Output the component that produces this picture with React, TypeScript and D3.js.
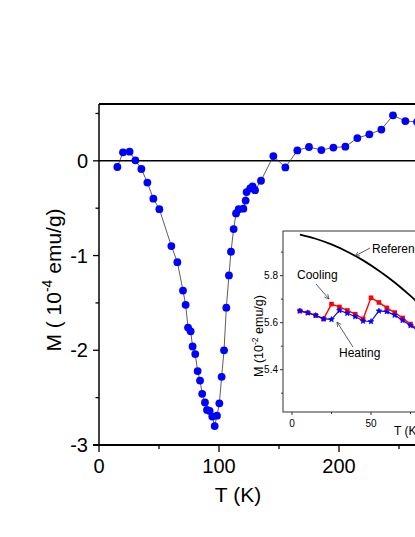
import React from "react";
import * as d3 from "d3";

const mainT = [15.3, 20, 25.5, 30.3, 35.3, 40.3, 45.3, 50.3, 60.3, 65.3, 70, 72.2, 74.2, 76.4, 78, 80.2, 82.2, 84.2, 86, 88.3, 90, 92.2, 94.4, 96.4, 98.3, 100.3, 102.2, 104.2, 106.1, 108.3, 110, 112.2, 114.2, 116.4, 120.3, 122.2, 123, 126, 128, 130, 135, 145.3, 155.3, 165.3, 175, 185.3, 195.3, 205.3, 215.3, 225.3, 235.3, 245, 255.3, 265, 275, 285];
const mainM = [-0.065, 0.09, 0.097, 0.005, -0.086, -0.23, -0.40, -0.51, -0.90, -1.07, -1.37, -1.52, -1.76, -1.80, -1.96, -2.04, -2.22, -2.32, -2.46, -2.55, -2.63, -2.64, -2.70, -2.80, -2.69, -2.56, -2.28, -2.00, -1.55, -1.21, -0.96, -0.72, -0.555, -0.51, -0.505, -0.42, -0.33, -0.29, -0.27, -0.31, -0.21, 0.05, -0.07, 0.11, 0.146, 0.114, 0.14, 0.15, 0.24, 0.28, 0.33, 0.48, 0.42, 0.41, 0.4, 0.42];

const mainYMajor = [-3, -2, -1, 0];
const mainYMinor = [-2.5, -1.5, -0.5, 0.5];
const mainXMajor = [0, 100, 200, 300];
const mainXMinor = [50, 150, 250];

const refT = [5, 15, 25, 35, 45, 55, 65, 75, 85, 95];
const refM = [5.975, 5.957, 5.933, 5.902, 5.865, 5.821, 5.771, 5.714, 5.651, 5.58];

const coolT = [5, 10, 15, 20, 25, 30, 35, 40, 45, 50, 55, 60, 65, 70, 75, 80, 85, 90];
const coolM = [5.65, 5.642, 5.631, 5.616, 5.679, 5.667, 5.652, 5.636, 5.616, 5.706, 5.686, 5.663, 5.643, 5.62, 5.594, 5.57, 5.55, 5.53];
const heatT = [5, 10, 15, 20, 25, 30, 35, 40, 45, 50, 55, 60, 65, 70, 75, 80, 85, 90];
const heatM = [5.65, 5.642, 5.631, 5.616, 5.614, 5.652, 5.64, 5.626, 5.607, 5.605, 5.65, 5.647, 5.632, 5.61, 5.588, 5.565, 5.545, 5.525];

const insetYMajor = [5.4, 5.6, 5.8];
const insetYMinor = [5.3, 5.5, 5.7, 5.9];
const insetXMajor = [0, 50];
const insetXMinor = [25, 75];

const FONT = "'Liberation Sans', Arial, sans-serif";

function Star({ cx, cy, r, fill }: { cx: number; cy: number; r: number; fill: string }) {
  const pts: string[] = [];
  for (let i = 0; i < 10; i++) {
    const a = -Math.PI / 2 + (i * Math.PI) / 5;
    const rr = i % 2 === 0 ? r : r * 0.45;
    pts.push(`${cx + rr * Math.cos(a)},${cy + rr * Math.sin(a)}`);
  }
  return <polygon points={pts.join(" ")} fill={fill} stroke={fill} strokeWidth={0.6} />;
}

export default function App() {
  const x = d3.scaleLinear().domain([0, 300]).range([99, 459]);
  const y = d3.scaleLinear().domain([-3, 0.6]).range([445, 104]);
  const mainData = mainT.map((t, i) => [t, mainM[i]] as [number, number]);
  const mainLine = d3.line<[number, number]>().x((d) => x(d[0])).y((d) => y(d[1]));

  const ix = d3.scaleLinear().domain([-5.7, 100]).range([283, 450]);
  const iy = d3.scaleLinear().domain([5.22, 5.99]).range([412, 231]);
  const iline = d3.line<[number, number]>().x((d) => ix(d[0])).y((d) => iy(d[1]));
  const refData = refT.map((t, i) => [t, refM[i]] as [number, number]);
  const coolData = coolT.map((t, i) => [t, coolM[i]] as [number, number]);
  const heatData = heatT.map((t, i) => [t, heatM[i]] as [number, number]);
  const refLine = d3.line<[number, number]>().x((d) => ix(d[0])).y((d) => iy(d[1])).curve(d3.curveMonotoneX);

  return (
    <svg width={415} height={537} style={{ position: "absolute", left: 0, top: 0, background: "#fff" }} fontFamily={FONT}>
      <defs>
        <marker id="arr" viewBox="0 0 10 10" refX="9" refY="5" markerWidth="7" markerHeight="7" orient="auto-start-reverse">
          <path d="M1,1 L9,5 L1,9" fill="none" stroke="#333" strokeWidth={1.2} />
        </marker>
      </defs>
      {/* main frame */}
      <line x1={x(0)} x2={470} y1={104} y2={104} stroke="#000" strokeWidth={1.8} />
      <line x1={x(0)} x2={470} y1={y(0)} y2={y(0)} stroke="#000" strokeWidth={1.5} />
      <line x1={x(0)} x2={x(0)} y1={104} y2={446} stroke="#000" strokeWidth={1.5} />
      <line x1={x(0) - 6} x2={470} y1={445} y2={445} stroke="#000" strokeWidth={2} />
      {mainYMajor.map((v) => (
        <g key={"ym" + v}>
          <line x1={x(0) - 6} x2={x(0)} y1={y(v)} y2={y(v)} stroke="#000" strokeWidth={1.3} />
          <text x={88} y={y(v)} dy="0.36em" textAnchor="end" fontSize={20}>{v === 0 ? "0" : "-" + Math.abs(v)}</text>
        </g>
      ))}
      {mainYMinor.map((v) => (
        <line key={"yn" + v} x1={x(0) - 3.5} x2={x(0)} y1={y(v)} y2={y(v)} stroke="#000" strokeWidth={1.3} />
      ))}
      {mainXMajor.map((v) => (
        <g key={"xm" + v}>
          <line x1={x(v)} x2={x(v)} y1={445} y2={452} stroke="#000" strokeWidth={1.3} />
          <text x={x(v)} y={473} textAnchor="middle" fontSize={20}>{v}</text>
        </g>
      ))}
      {mainXMinor.map((v) => (
        <line key={"xn" + v} x1={x(v)} x2={x(v)} y1={445} y2={449} stroke="#000" strokeWidth={1.3} />
      ))}
      <text transform={`translate(61,280) rotate(-90)`} textAnchor="middle" fontSize={21}>
        M ( 10<tspan fontSize={14} dy={-9}>-4</tspan><tspan dy={9}> emu/g)</tspan>
      </text>
      <text x={238} y={502} textAnchor="middle" fontSize={21}>T (K)</text>

      {/* main data */}
      <path d={mainLine(mainData) || ""} fill="none" stroke="#333" strokeWidth={0.8} />
      {mainData.map((d, i) => (
        <circle key={"p" + i} cx={x(d[0])} cy={y(d[1])} r={3.9} fill="#0000FF" />
      ))}

      {/* inset */}
      <rect x={283} y={231} width={200} height={181} fill="#fff" stroke="#333" strokeWidth={1} />
      {insetYMajor.map((v) => (
        <g key={"iym" + v}>
          <line x1={280} x2={283} y1={iy(v)} y2={iy(v)} stroke="#333" strokeWidth={1} />
          <text x={278} y={iy(v)} dy="0.36em" textAnchor="end" fontSize={10}>{v.toFixed(1)}</text>
        </g>
      ))}
      {insetYMinor.map((v) => (
        <line key={"iyn" + v} x1={281} x2={283} y1={iy(v)} y2={iy(v)} stroke="#333" strokeWidth={1} />
      ))}
      {insetXMajor.map((v) => (
        <g key={"ixm" + v}>
          <line x1={ix(v)} x2={ix(v)} y1={412} y2={415} stroke="#333" strokeWidth={1} />
          <text x={ix(v)} y={427} textAnchor="middle" fontSize={10}>{v}</text>
        </g>
      ))}
      {insetXMinor.map((v) => (
        <line key={"ixn" + v} x1={ix(v)} x2={ix(v)} y1={412} y2={414} stroke="#333" strokeWidth={1} />
      ))}
      <text x={394} y={435} fontSize={12}>T (K)</text>
      <text transform={`translate(263,336) rotate(-90)`} textAnchor="middle" fontSize={12.5}>
        M (10<tspan fontSize={8.5} dy={-5}>-2</tspan><tspan dy={5}> emu/g)</tspan>
      </text>

      <path d={refLine(refData) || ""} fill="none" stroke="#000" strokeWidth={1.8} />
      <path d={iline(coolData) || ""} fill="none" stroke="#FF0000" strokeWidth={1.4} />
      {coolData.map((d, i) => (
        <rect key={"c" + i} x={ix(d[0]) - 2.3} y={iy(d[1]) - 2.3} width={4.6} height={4.6} fill="#FF0000" />
      ))}
      <path d={iline(heatData) || ""} fill="none" stroke="#0000FF" strokeWidth={1.2} />
      {heatData.map((d, i) => (
        <Star key={"h" + i} cx={ix(d[0])} cy={iy(d[1])} r={3} fill="#0000FF" />
      ))}

      <text x={372} y={253} fontSize={12}>Reference</text>
      <line x1={370} y1={248} x2={355} y2={256} stroke="#333" strokeWidth={0.8} markerEnd="url(#arr)" />
      <text x={297} y={279} fontSize={12}>Cooling</text>
      <line x1={316} y1={284} x2={329} y2={299} stroke="#333" strokeWidth={0.8} markerEnd="url(#arr)" />
      <text x={339} y={357} fontSize={12}>Heating</text>
      <line x1={353} y1={347} x2={337} y2={322} stroke="#333" strokeWidth={0.8} markerEnd="url(#arr)" />
    </svg>
  );
}
